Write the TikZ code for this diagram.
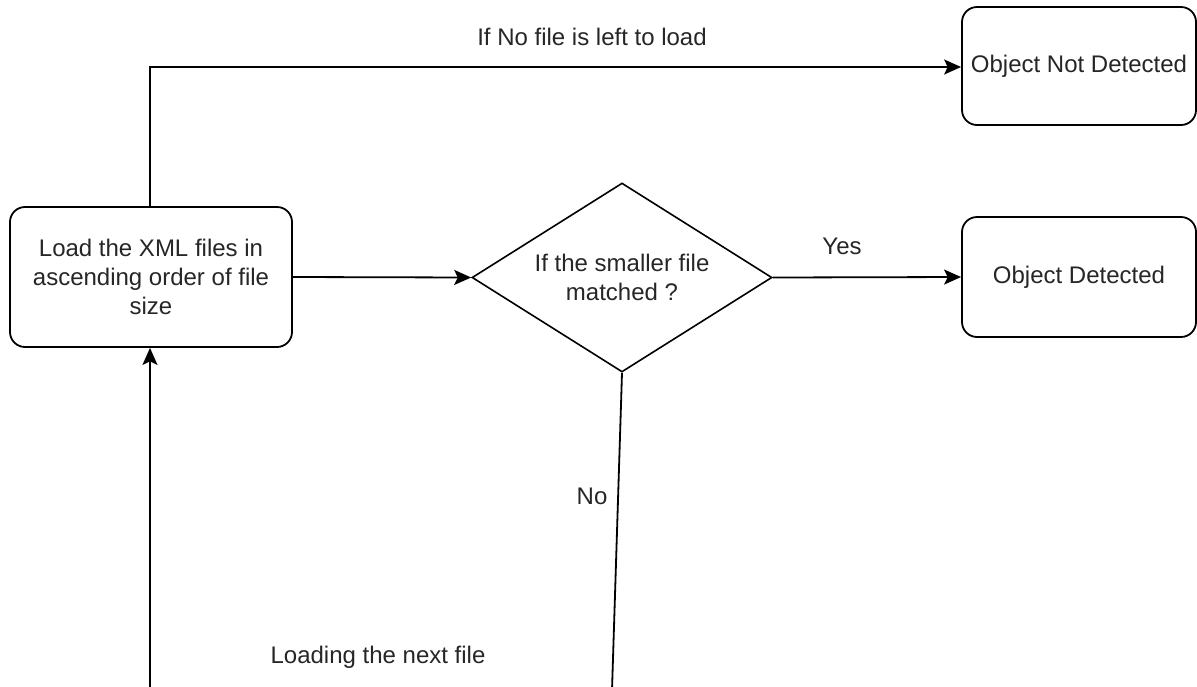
\documentclass[tikz,border=0pt]{standalone}
\usepackage{fontspec}
\setmainfont{Liberation Sans}
\usetikzlibrary{shapes.geometric,arrows.meta}
\begin{document}
\begin{tikzpicture}[x=0.5pt,y=-0.5pt,
  every node/.style={font=\fontsize{12}{14.3}\selectfont, text=black!85},
  roundbox/.style={draw, line width=0.9pt, rounded corners=7.5pt, align=center, inner sep=0pt},
  decision/.style={draw, line width=0.8pt, diamond, aspect=1.59, align=center, inner sep=0pt},
  conn/.style={draw, line width=0.9pt},
  arr/.style={conn, -{Stealth[length=8.5pt,width=7.5pt,inset=1.8pt]}},
  lbl/.style={inner sep=0pt}]
\useasboundingbox (0,0) rectangle (1197,686);
\clip (0,0) rectangle (1197,686);
\node[roundbox, minimum width=141pt, minimum height=70pt] (load) at (151,277)
  {Load the XML files in\\ascending order of file\\size};
\node[decision, minimum width=150pt, minimum height=94.5pt] (dec) at (622,277.5)
  {If the smaller file\\matched ?};
\node[roundbox, minimum width=117pt, minimum height=59pt] (notdet) at (1079,66)
  {Object Not Detected};
\node[roundbox, minimum width=117pt, minimum height=60pt] (det) at (1079,277)
  {Object Detected};
\coordinate (nobot) at (612,690);
\coordinate (loadbot) at (150,690);
\coordinate (topcorner) at (150,67);
\draw[arr] (load.east) -- (dec.west);
\draw[arr] (dec.east) -- (det.west);
\draw[arr] (load.north -| topcorner) -- (topcorner) -- (notdet.west |- topcorner);
\draw[conn] (dec.south) -- (nobot);
\draw[arr] (loadbot) -- (load.south -| loadbot);
\node[lbl] (ltop) at (592,37) {If No file is left to load};
\node[lbl] (lyes) at (842,246) {Yes};
\node[lbl] (lno) at (592,496) {No};
\node[lbl] (lnext) at (378,657) {Loading the next file};
\end{tikzpicture}
\end{document}
